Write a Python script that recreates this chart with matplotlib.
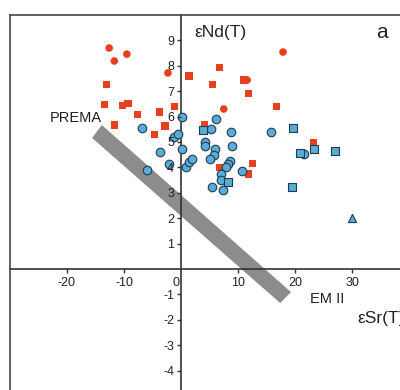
import matplotlib
matplotlib.use("Agg")
import matplotlib.pyplot as plt
from matplotlib.patches import Polygon

# ---- data ----
red_circle_x = [-12.6, -11.7, -9.5, -2.3, 17.9, 7.5, 11.6]
red_circle_y = [8.70, 8.19, 8.46, 7.72, 8.54, 6.30, 7.44]

red_square_x = [-13.0, -13.5, -10.2, -9.3, -11.6, -7.7, -3.7, -1.1, -2.8, -4.6,
                1.4, 6.8, 5.6, 10.9, 11.8, 16.8, 4.2, 23.3, 12.6, 11.8, 6.8]
red_square_y = [7.28, 6.46, 6.42, 6.50, 5.67, 6.07, 6.18, 6.38, 5.63, 5.28,
                7.60, 7.95, 7.28, 7.44, 6.90, 6.38, 5.67, 4.96, 4.17, 3.74, 3.98]

blue_circle_x = [0.2, -6.8, -1.2, -0.5, -3.7, 0.2, -2.1, -6.0, 0.9, 1.4, 1.9,
                 6.1, 5.3, 8.8, 15.8, 4.2, 4.2, 6.0, 8.9, 5.8, 5.1, 8.6, 8.2,
                 7.9, 7.0, 7.0, 5.4, 7.4, 10.7, 21.6]
blue_circle_y = [5.98, 5.55, 5.20, 5.31, 4.61, 4.72, 4.13, 3.90, 4.02, 4.21, 4.33,
                 5.91, 5.51, 5.39, 5.39, 5.00, 4.84, 4.72, 4.84, 4.49, 4.33, 4.25, 4.13,
                 4.02, 3.74, 3.50, 3.23, 3.11, 3.86, 4.53]

blue_square_x = [3.9, 8.2, 19.6, 23.3, 27.0, 20.9, 19.5]
blue_square_y = [5.47, 3.43, 5.55, 4.72, 4.65, 4.57, 3.23]

blue_triangle_x = [30.0]
blue_triangle_y = [2.0]

band_x = [-13.9, -15.6, 17.4, 19.3]
band_y = [5.67, 5.16, -1.34, -0.91]

x_ticks = [-20, -10, 10, 20, 30]
y_ticks = [-4, -3, -2, -1, 1, 2, 3, 4, 5, 6, 7, 8, 9]

# ---- style ----
RED = "#e6411e"
BLUE = "#58acd5"
EDGE = "#1f3d52"
AXC = "#333333"
plt.rcParams["font.family"] = ["Liberation Sans", "DejaVu Sans"]

fig = plt.figure(figsize=(4.0, 3.9), dpi=100)
ax = fig.add_axes([10 / 400, 1 - 396 / 390, 399 / 400, 381 / 390])
ax.set_xlim(-30, 40)
ax.set_ylim(-5, 10)

ax.add_patch(Polygon(list(zip(band_x, band_y)), closed=True,
                     facecolor="#8c8c8c", edgecolor="none", zorder=2))

ax.scatter(red_square_x, red_square_y, marker="s", s=26, c=RED,
           edgecolors="none", zorder=3)
ax.scatter(red_circle_x, red_circle_y, marker="o", s=30, c=RED,
           edgecolors="none", zorder=3)
ax.scatter(blue_circle_x, blue_circle_y, marker="o", s=38, c=BLUE,
           edgecolors=EDGE, linewidths=0.8, zorder=4)
ax.scatter(blue_square_x, blue_square_y, marker="s", s=34, c=BLUE,
           edgecolors=EDGE, linewidths=0.8, zorder=4)
ax.scatter(blue_triangle_x, blue_triangle_y, marker="^", s=34, c=BLUE,
           edgecolors=EDGE, linewidths=0.8, zorder=4)

# axes through origin
ax.spines["left"].set_position(("data", 0))
ax.spines["bottom"].set_position(("data", 0))
for sp in ["left", "bottom"]:
    ax.spines[sp].set_color(AXC)
    ax.spines[sp].set_linewidth(1.2)
    ax.spines[sp].set_zorder(2.5)
for sp in ["top", "right"]:
    ax.spines[sp].set_color("#444444")
    ax.spines[sp].set_linewidth(1.2)
ax.plot([0, 0], [0, 1], transform=ax.transAxes, color="#444444", lw=1.2,
        clip_on=False, zorder=5)

ax.set_xticks(x_ticks)
ax.set_xticklabels([str(v) for v in x_ticks])
ax.set_yticks(y_ticks)
ax.set_yticklabels([str(v) for v in y_ticks])
ax.tick_params(axis="both", direction="out", length=3, width=1.0,
               color=AXC, labelsize=9, labelcolor="#222222", pad=2)
ax.tick_params(axis="x", pad=3)
ax.xaxis.set_zorder(6)
ax.yaxis.set_zorder(6)

ax.text(-0.9, -0.3, "0", ha="center", va="top", fontsize=9, color="#222222", zorder=6)
ax.text(2.4, 9.3, "εNd(T)", ha="left", va="center", fontsize=12.5, color="#222222")
ax.text(35.3, 9.3, "a", ha="center", va="center", fontsize=15, color="#222222")
ax.text(-13.9, 5.95, "PREMA", ha="right", va="center", fontsize=10.5, color="#222222")
ax.text(22.7, -1.2, "EM II", ha="left", va="center", fontsize=10.5, color="#222222")
ax.text(31.0, -1.95, "εSr(T)", ha="left", va="center", fontsize=12.5, color="#222222")

fig.savefig("out.png", dpi=100)
